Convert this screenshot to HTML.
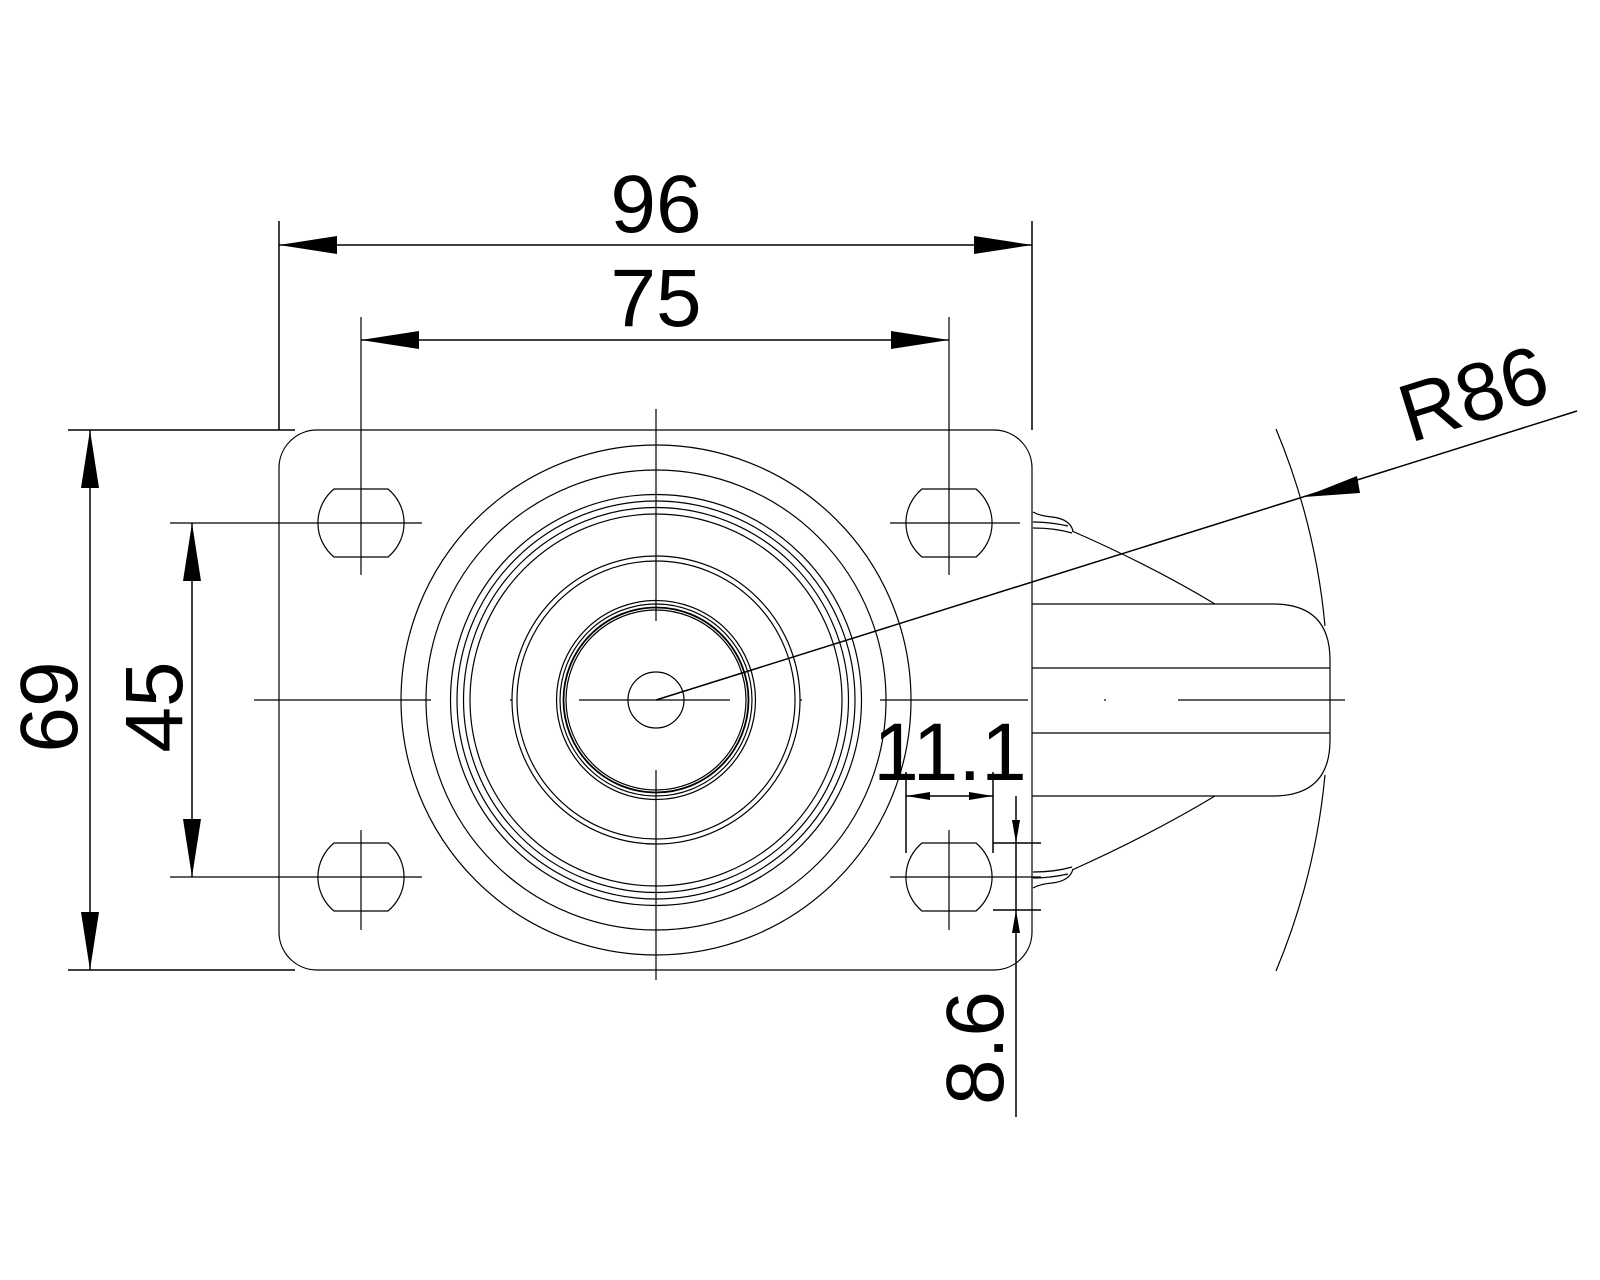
<!DOCTYPE html>
<html><head><meta charset="utf-8"><style>html,body{margin:0;padding:0;background:#fff}svg{display:block}</style></head>
<body>
<svg width="1600" height="1280" viewBox="0 0 1600 1280" xmlns="http://www.w3.org/2000/svg">
<g fill="none" stroke="#000" stroke-width="1.2">
<!-- plate -->
<rect x="279" y="430" width="753" height="540" rx="38" ry="38"/>
<!-- concentric circles -->
<circle cx="656" cy="700" r="255"/>
<circle cx="656" cy="700" r="230"/>
<circle cx="656" cy="700" r="205.5"/>
<circle cx="656" cy="700" r="199"/>
<circle cx="656" cy="700" r="192.5"/>
<circle cx="656" cy="700" r="186"/>
<circle cx="656" cy="700" r="144"/>
<circle cx="656" cy="700" r="139"/>
<circle cx="656" cy="700" r="99.5"/>
<circle cx="656" cy="700" r="96"/>
<circle cx="656" cy="700" r="92.5" stroke-width="1.8"/>
<circle cx="656" cy="700" r="90"/>
<circle cx="656" cy="700" r="28"/>
<!-- holes -->
<path d="M334,489 L388,489 A44,44 0 0 1 388,557 L334,557 A44,44 0 0 1 334,489Z"/>
<path d="M922,489 L976,489 A44,44 0 0 1 976,557 L922,557 A44,44 0 0 1 922,489Z"/>
<path d="M334,843 L388,843 A44,44 0 0 1 388,911 L334,911 A44,44 0 0 1 334,843Z"/>
<path d="M922,843 L976,843 A44,44 0 0 1 976,911 L922,911 A44,44 0 0 1 922,843Z"/>
<!-- centerlines -->
<path d="M254,700 H431 M510,700 H512 M579,700 H730 M800,700 H802 M880,700 H1028 M1104,700 H1106 M1178,700 H1345"/>
<path d="M656,409 V621 M656,770 V980"/>
<path d="M170,523 H422 M361,317 V575 M170,877 H422 M361,830 V930"/>
<path d="M890,523 H1020 M949,317 V575 M890,877 H1041 M949,830 V930"/>
<!-- yoke -->
<path d="M1032,604 H1273 Q1330,604 1330,660 V740 Q1330,796 1273,796 H1032"/>
<path d="M1032,668 H1330 M1032,733 H1330"/>
<path d="M1072,531 Q1150,565 1215,604 M1072,870 Q1150,835 1215,796"/>
<path d="M1033,512 Q1040,516 1052,517 Q1070,519 1073,531 M1033,522 Q1050,522 1068,526 M1033,528 Q1055,528 1072,533"/>
<path d="M1033,888 Q1040,884 1052,883 Q1070,881 1073,869 M1033,878 Q1050,878 1068,874 M1033,872 Q1055,872 1072,867"/>
<!-- R86 arc -->
<path d="M1276,429 A673,673 0 0 1 1325,626 M1325,775 A673,673 0 0 1 1276,971"/>
</g>
<g fill="none" stroke="#000" stroke-width="1.5">
<!-- 96 -->
<path d="M279,221 V430 M1032,221 V430 M279,245 H1032"/>
<!-- 75 -->
<path d="M361,340 H949"/>
<!-- 69 -->
<path d="M68,430 H295 M68,970 H295 M90,430 V970"/>
<!-- 45 -->
<path d="M192,523 V877"/>
<!-- 11.1 -->
<path d="M906,772 V853 M993,772 V853 M906,796 H993"/>
<!-- 8.6 -->
<path d="M1016,796 V1117 M993,843 H1041 M993,910 H1041"/>
<!-- R86 leader -->
<path d="M656,700 L1577,411"/>
</g>
<g fill="#000">
<polygon points="279,245 337,236 337,254"/>
<polygon points="1032,245 974,236 974,254"/>
<polygon points="361,340 419,331 419,349"/>
<polygon points="949,340 891,331 891,349"/>
<polygon points="90,430 81,488 99,488"/>
<polygon points="90,970 81,912 99,912"/>
<polygon points="192,523 183,581 201,581"/>
<polygon points="192,877 183,819 201,819"/>
<polygon points="906,796 930,792 930,800"/>
<polygon points="993,796 969,792 969,800"/>
<polygon points="1016,843 1012,820 1020,820"/>
<polygon points="1016,910 1012,933 1020,933"/>
<polygon points="1304,497 1357,476 1360,493"/>
</g>
<g font-family="Liberation Sans, sans-serif" font-size="82" fill="#000" text-anchor="middle">
<text x="656" y="232">96</text>
<text x="656" y="326">75</text>
<text x="950" y="780">11.1</text>
<text transform="translate(77,707) rotate(-90)">69</text>
<text transform="translate(182,707) rotate(-90)">45</text>
<text transform="translate(1003,1048) rotate(-90)">8.6</text>
<text text-anchor="start" transform="translate(1410,443) rotate(-17.4)">R86</text>
</g>
</svg>
</body></html>
